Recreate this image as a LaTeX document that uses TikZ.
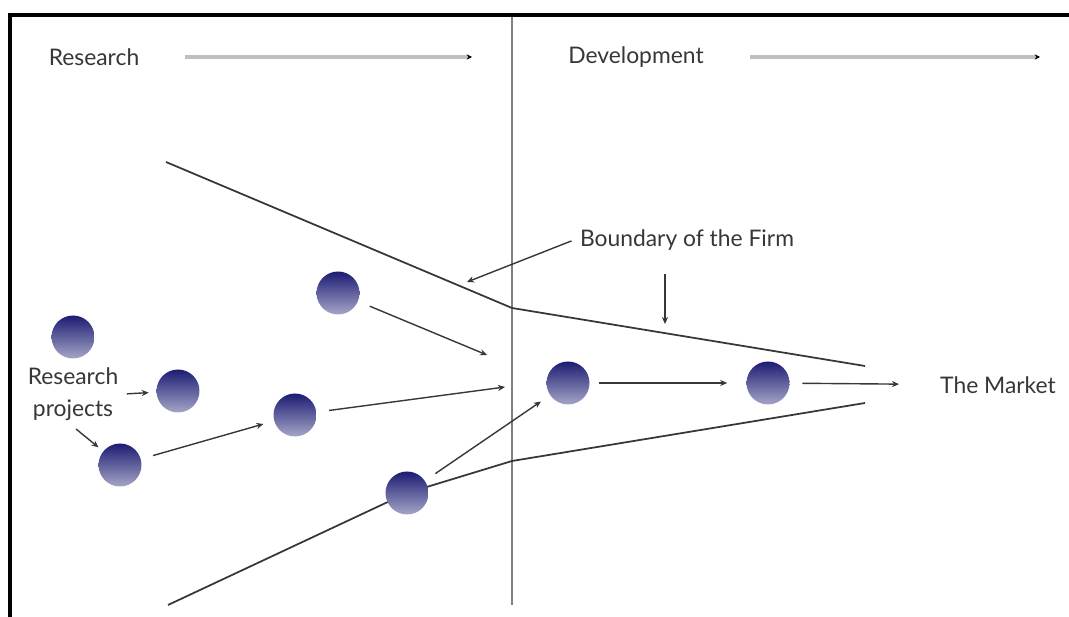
\documentclass[tikz,border=0pt]{standalone}
\usepackage{fontspec}
\setmainfont{Lato}
\usetikzlibrary{positioning,arrows.meta}

\definecolor{balltop}{RGB}{28,28,115}
\definecolor{ballbot}{RGB}{165,165,200}
\definecolor{inkgray}{RGB}{55,55,55}

\begin{document}
\begin{tikzpicture}[
  x=0.02cm, y=-0.02cm,
  every node/.style={font=\fontsize{13}{18}\selectfont, text=inkgray},
  ball/.style={circle, minimum size=0.86cm, inner sep=0pt, top color=balltop, bottom color=ballbot},
  arrow/.style={-{Stealth[length=4pt,width=3.5pt]}, line width=0.8pt, draw=inkgray, shorten <=0.25cm, shorten >=0.22cm},
  phase/.style={-{Stealth[length=3pt,width=3pt,color=black]}, line width=2pt, draw=gray!50},
  bound/.style={line width=1pt, draw=inkgray}
]
\useasboundingbox (0,0) rectangle (1069,617);

% Frame and divider
\draw[line width=2.2pt] (10,617) -- (10,15) -- (1069,15);
\draw[line width=1pt, gray] (512,17) -- (512,605);

% Phases
\node (res) at (94,57) {Research};
\coordinate (resEnd) at (472,57);
\draw[phase] ([xshift=0.8cm]res.east) -- (resEnd);
\node (dev) at (636,57) {Development};
\coordinate (devEnd) at (1040,57);
\draw[phase] ([xshift=0.8cm]dev.east) -- (devEnd);

% Boundary of the firm
\coordinate (upStart) at (166,162);
\coordinate (upMid) at (512,308);
\coordinate (upEnd) at (865,366);
\coordinate (loStart) at (168,605);
\coordinate (loMid) at (512,461);
\coordinate (loEnd) at (865,403);
\coordinate (spinoff) at (407,493);
\draw[bound] (upStart) -- (upMid) -- (upEnd);
\draw[bound] (loStart) -- (spinoff) -- (loMid) -- (loEnd);

% Projects
\node[ball] (projA) at (73,337) {};
\node[ball] (projB) at (178,391) {};
\node[ball] (projC) at (120,465) {};
\node[ball] (projD) at (295,415) {};
\node[ball] (projE) at (338,293) {};
\node[ball] (projF) at (spinoff) {};
\node[ball] (devA) at (568,383) {};
\node[ball] (devB) at (768,383) {};

% Labels
\node[align=center] (rp) at (73,394) {Research\\projects};
\node (firm) at (687,240) {Boundary of the Firm};
\node (market) at (998,385) {The Market};
\coordinate (gateU) at (487,355);
\coordinate (gateM) at (505,387);
\coordinate (upHit) at (467,282);
\coordinate (firmFrom) at (665,274);
\coordinate (upHit2) at (665,324);

% Arrows
\draw[arrow, shorten <=0.05cm, shorten >=0.15cm] (rp.east) -- (projB);
\draw[arrow, shorten <=0.08cm, shorten >=0.12cm] (rp.south) -- (projC);
\draw[arrow] (projC) -- (projD);
\draw[arrow, shorten >=0pt] (projD) -- (gateM);
\draw[arrow, shorten >=0pt] (projE) -- (gateU);
\draw[arrow] (projF) -- (devA);
\draw[arrow, shorten <=0.18cm, shorten >=0.38cm] (devA) -- (devB);
\draw[arrow, shorten >=0.7cm] (devB) -- (market);
\draw[arrow, shorten <=0.05cm, shorten >=0pt] (firm.west) -- (upHit);
\draw[arrow, shorten <=0pt, shorten >=0pt] (firmFrom) -- (upHit2);

\end{tikzpicture}
\end{document}
